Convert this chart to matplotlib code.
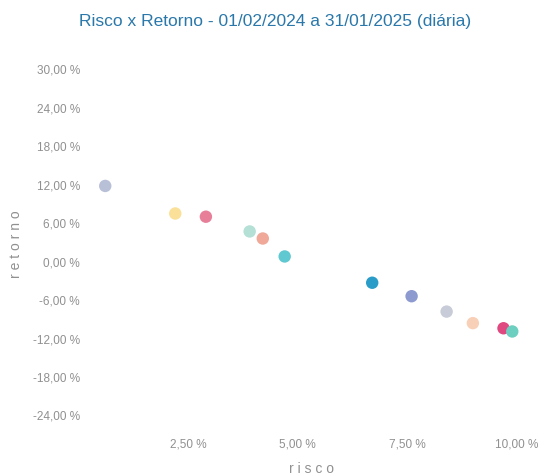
import matplotlib.pyplot as plt
from matplotlib.ticker import FuncFormatter

risco = [0.6, 2.2, 2.9, 3.9, 4.2, 4.7, 6.7, 7.6, 8.4, 9.0, 9.7, 9.9]
retorno = [11.8, 7.5, 7.0, 4.7, 3.6, 0.8, -3.3, -5.4, -7.8, -9.6, -10.4, -10.9]
cores = ["#b8c0d8", "#fbe09a", "#e87f98", "#b5e0d5", "#f0a898", "#5fc8d0",
         "#2a9cc8", "#8d9ad0", "#c8ccd8", "#f8d0b8", "#e04880", "#6ccfc0"]

yticks = [-24, -18, -12, -6, 0, 6, 12, 18, 24, 30]
xticks = [2.5, 5.0, 7.5, 10.0]

plt.rcParams['font.family'] = ['Liberation Sans', 'DejaVu Sans']

fig = plt.figure(figsize=(5.51, 4.76), dpi=100)
ax = fig.add_axes([0.16, 0.107, 0.811, 0.761])

ax.scatter(risco, retorno, c=cores, s=80, linewidths=0, zorder=3)

ax.set_xlim(0.21, 10.42)
ax.set_ylim(-25.5, 31)
ax.set_xticks(xticks)
ax.set_yticks(yticks)

fmt = FuncFormatter(lambda v, p: f"{v:.2f} %".replace(".", ","))
ax.xaxis.set_major_formatter(fmt)
ax.yaxis.set_major_formatter(fmt)
ax.tick_params(length=0, colors="#909090", labelsize=8.5, pad=6)
ax.tick_params(axis="x", pad=10)
for s in ax.spines.values():
    s.set_visible(False)

ax.set_xlabel("r i s c o", color="#909090", fontsize=10, labelpad=8)
ax.set_ylabel("r e t o r n o", color="#909090", fontsize=10)
ax.yaxis.set_label_coords(-0.145, 0.5)

fig.text(0.5, 0.955, "Risco x Retorno - 01/02/2024 a 31/01/2025 (diária)",
         ha="center", va="center", color="#2a78aa", fontsize=12.5)

fig.savefig("out.png", dpi=100)
